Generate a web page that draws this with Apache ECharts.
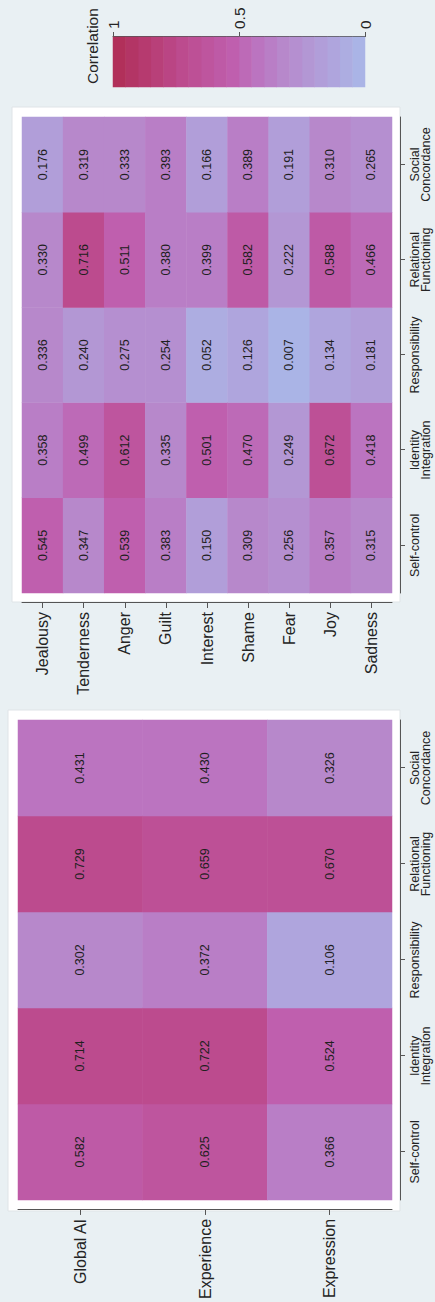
<!DOCTYPE html>
<html>
<head>
<meta charset="utf-8">
<script src="https://cdn.jsdelivr.net/npm/echarts@6/dist/echarts.min.js"></script>
<style>
  html, body { margin: 0; padding: 0; width: 435px; height: 1302px; overflow: hidden; background: #e9f0f3; }
  /* The figure is laid out landscape (1302 x 435) and turned a quarter turn counter-clockwise. */
  #chart {
    position: absolute; left: 0; top: 0;
    width: 1302px; height: 435px;
    transform-origin: 0 0;
    transform: translate(0, 1302px) rotate(-90deg);
  }
</style>
</head>
<body>
<div id="chart"></div>
<script>
// ---- data ----
const traits = ['Self-control', 'Identity\nIntegration', 'Responsibility', 'Relational\nFunctioning', 'Social\nConcordance'];
const scales = ['Global AI', 'Experience', 'Expression'];
const emotions = ['Jealousy', 'Tenderness', 'Anger', 'Guilt', 'Interest', 'Shame', 'Fear', 'Joy', 'Sadness'];

// correlations per row, in the order of `traits`
const globalAI   = [0.582, 0.714, 0.302, 0.729, 0.431];
const experience = [0.625, 0.722, 0.372, 0.659, 0.430];
const expression = [0.366, 0.524, 0.106, 0.670, 0.326];

const jealousy   = [0.545, 0.358, 0.336, 0.330, 0.176];
const tenderness = [0.347, 0.499, 0.240, 0.716, 0.319];
const anger      = [0.539, 0.612, 0.275, 0.511, 0.333];
const guilt      = [0.383, 0.335, 0.254, 0.380, 0.393];
const interest   = [0.150, 0.501, 0.052, 0.399, 0.166];
const shame      = [0.309, 0.470, 0.126, 0.582, 0.389];
const fear       = [0.256, 0.249, 0.007, 0.222, 0.191];
const joy        = [0.357, 0.672, 0.134, 0.588, 0.310];
const sadness    = [0.315, 0.418, 0.181, 0.466, 0.265];

// colour-key bins (mid value of each 0.05 step) and tick labels
const keyBins = [0.025, 0.075, 0.125, 0.175, 0.225, 0.275, 0.325, 0.375, 0.425, 0.475,
                 0.525, 0.575, 0.625, 0.675, 0.725, 0.775, 0.825, 0.875, 0.925, 0.975];
const keyTicks = [0, 0.5, 1];

// ---- colour scale: 20 discrete steps from lavender (0) to crimson (1) ----
const palette = [[0, '#a9b8e8'], [0.125, '#afa5dd'], [0.325, '#b788cb'], [0.425, '#bb74c0'],
                 [0.525, '#bf5fae'], [0.73, '#bc4a8d'], [1, '#b02d55']];
function hex2rgb(h) { return [1, 3, 5].map(i => parseInt(h.substr(i, 2), 16)); }
function colorAt(t) {
  for (let i = 0; i < palette.length - 1; i++) {
    const [a, ca] = palette[i], [b, cb] = palette[i + 1];
    if (t >= a && t <= b) {
      const f = (t - a) / (b - a), A = hex2rgb(ca), B = hex2rgb(cb);
      return 'rgb(' + A.map((v, k) => Math.round(v + (B[k] - v) * f)).join(',') + ')';
    }
  }
  return palette[palette.length - 1][1];
}
const nSteps = 20;
const pieces = [];
for (let i = 0; i < nSteps; i++) {
  const p = { gte: i / nSteps, color: colorAt((i + 0.5) / nSteps) };
  if (i === nSteps - 1) p.lte = 1; else p.lt = (i + 1) / nSteps;
  pieces.push(p);
}

function toCells(rows) {
  const out = [];
  rows.forEach((vals, r) => vals.forEach((v, c) => out.push([c, r, v])));
  return out;
}

const FONT = '"Liberation Sans", Arial, Helvetica, sans-serif';
const TXT = '#242424';
const AX = '#555555';

const catX = (gridIndex) => ({
  type: 'category', gridIndex, data: traits, position: 'bottom', offset: 8,
  axisLine: { show: true, lineStyle: { color: AX, width: 1 } },
  axisTick: { show: true, alignWithLabel: true, length: 5, lineStyle: { color: AX } },
  axisLabel: { fontFamily: FONT, fontSize: 12.5, lineHeight: 11, color: TXT, margin: 9, interval: 0 },
  splitLine: { show: false }
});
const catY = (gridIndex, data) => ({
  type: 'category', gridIndex, data, inverse: true, position: 'left', offset: 10,
  axisLine: { show: true, lineStyle: { color: AX, width: 1 } },
  axisTick: { show: true, alignWithLabel: true, length: 5, lineStyle: { color: AX } },
  axisLabel: { fontFamily: FONT, fontSize: 16, color: TXT, margin: 9, interval: 0 },
  splitLine: { show: false }
});
const cellLabel = {
  show: true, fontFamily: FONT, fontSize: 12.5, color: '#202020',
  formatter: p => p.value[2].toFixed(3)
};

const chart = echarts.init(document.getElementById('chart'), null, { renderer: 'svg' });
chart.setOption({
  backgroundColor: '#e9f0f3',
  animation: false,
  title: {
    text: 'Correlation', left: 1218, top: 84, padding: 0,
    textStyle: { fontFamily: FONT, fontSize: 15.5, fontWeight: 'normal', color: TXT }
  },
  graphic: [
    // white plot regions behind both heat maps
    { type: 'rect', z: -10, shape: { x: 91, y: 8, width: 501, height: 392 },
      style: { fill: '#ffffff', stroke: '#dfe4e7', lineWidth: 1 } },
    { type: 'rect', z: -10, shape: { x: 700, y: 12, width: 495, height: 388 },
      style: { fill: '#ffffff', stroke: '#dfe4e7', lineWidth: 1 } }
  ],
  grid: [
    { left: 100, top: 18, width: 482, height: 374 },
    { left: 709, top: 22, width: 476, height: 370 },
    { left: 1215, top: 113, width: 50, height: 252 }
  ],
  xAxis: [
    catX(0),
    catX(1),
    { type: 'category', gridIndex: 2, data: ['key'], show: false }
  ],
  yAxis: [
    catY(0, scales),
    catY(1, emotions),
    { type: 'category', gridIndex: 2, data: keyBins.map(String), show: false },
    {
      type: 'value', gridIndex: 2, position: 'right', min: 0, max: 1, interval: 0.5,
      axisLine: { show: true, lineStyle: { color: AX, width: 1 } },
      axisTick: { show: true, length: 5, lineStyle: { color: AX } },
      axisLabel: { fontFamily: FONT, fontSize: 15.5, color: TXT, margin: 8,
                   formatter: v => keyTicks.indexOf(v) >= 0 ? String(v) : '' },
      splitLine: { show: false }
    }
  ],
  visualMap: {
    type: 'piecewise', show: false, dimension: 2, seriesIndex: [0, 1, 2], pieces
  },
  series: [
    {
      type: 'heatmap', xAxisIndex: 0, yAxisIndex: 0,
      data: toCells([globalAI, experience, expression]),
      label: cellLabel, emphasis: { disabled: true }, progressive: 0
    },
    {
      type: 'heatmap', xAxisIndex: 1, yAxisIndex: 1,
      data: toCells([jealousy, tenderness, anger, guilt, interest, shame, fear, joy, sadness]),
      label: cellLabel, emphasis: { disabled: true }, progressive: 0
    },
    {
      type: 'heatmap', xAxisIndex: 2, yAxisIndex: 2,
      data: keyBins.map((v, i) => [0, i, v]),
      label: { show: false }, emphasis: { disabled: true }, progressive: 0
    }
  ]
});
</script>
</body>
</html>
